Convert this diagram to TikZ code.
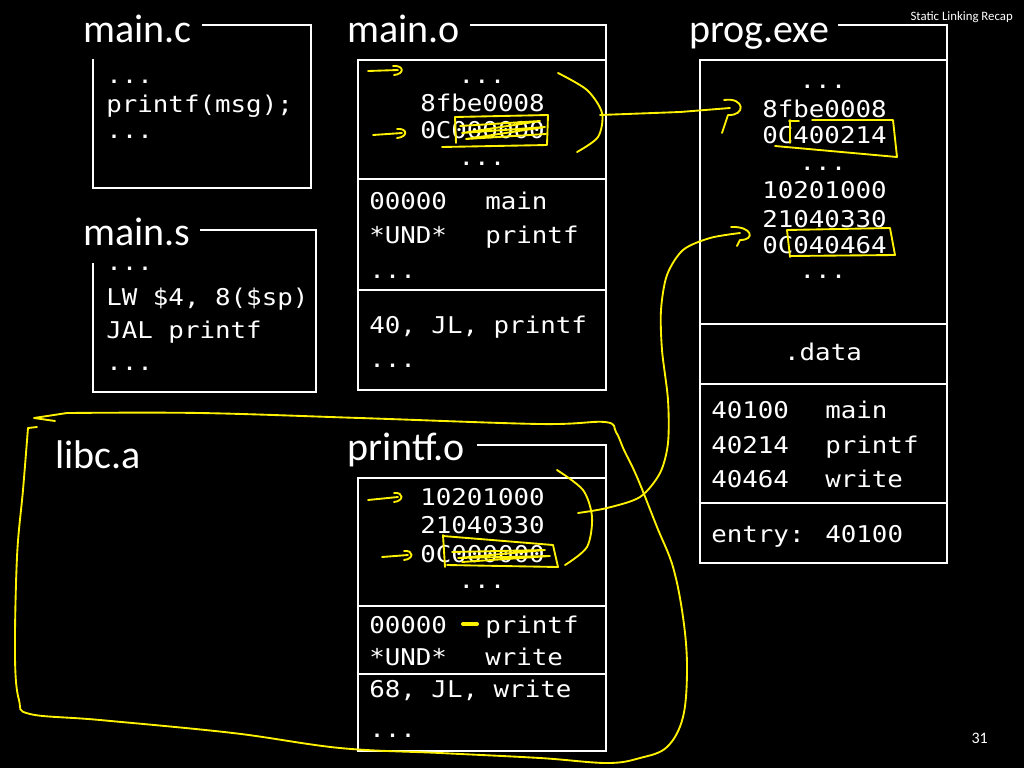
\documentclass[tikz,border=0pt]{standalone}
\usepackage{fontspec}
\setmainfont{Carlito}
\newfontfamily\monofam[FakeStretch=1.12]{DejaVu Sans Mono}
\newcommand\mycode{\monofam\fontsize{17.3}{20}\selectfont}
\newcommand\mytitle{\fontsize{30}{36}\selectfont}
\usetikzlibrary{arrows.meta}
\begin{document}
\begin{tikzpicture}[x=0.75pt,y=-0.75pt,
  box/.style={draw=white,line width=2pt},
  code/.style={anchor=base west,inner sep=0pt,font=\mycode,text=white},
  codec/.style={anchor=base,inner sep=0pt,font=\mycode,text=white},
  title/.style={anchor=base west,inner sep=0pt,font=\mytitle,text=white},
  ann/.style={draw=yellow,line width=1.4pt,line cap=round,line join=round},
  annthick/.style={draw=yellow,line width=3pt,line cap=round}]
\fill[black] (0,0) rectangle (1024,768);
\useasboundingbox (0,0) rectangle (1024,768);

% ---------- boxes ----------
\draw[box] (202,25) -- (311,25) -- (311,188) -- (93,188) -- (93,59);
\draw[box] (200,230) -- (316,230) -- (316,392) -- (93,392) -- (93,263);
\draw[box] (470,25) -- (606,25) -- (606,390) -- (358,390) -- (358,60) -- (606,60);
\draw[box] (358,179) -- (606,179);
\draw[box] (358,290) -- (606,290);
\draw[box] (477,445) -- (606,445) -- (606,751) -- (358,751) -- (358,478) -- (606,478);
\draw[box] (358,606) -- (606,606);
\draw[box] (358,674) -- (606,674);
\draw[box] (838,25) -- (947,25) -- (947,563) -- (700,563) -- (700,60) -- (947,60);
\draw[box] (700,324) -- (947,324);
\draw[box] (700,384) -- (947,384);
\draw[box] (700,503) -- (947,503);

% ---------- titles ----------
\node[title] (tmc) at (83,42) {main.c};
\node[title,text depth=0pt] (tms) at (83,245) {main.s};
\node[title] (tmo) at (347,42) {main.o};
\node[title] (tpe) at (689,42) {prog.exe};
\node[title] (tpo) at (347,460) {printf.o};
\node[title] (tlib) at (55,468) {libc.a};
\node[anchor=base east,inner sep=0pt,font=\fontsize{9.6}{11}\selectfont,text=white] (hdr) at (1013,20) {Static Linking Recap};
\node[anchor=base east,inner sep=0pt,font=\fontsize{12}{14}\selectfont,text=white] (pg) at (988,743) {31};

% ---------- main.c ----------
\node[code] (c1) at (106,83) {...};
\node[code] (c2) at (106,112) {printf(msg);};
\node[code] (c3) at (106,138) {...};
% ---------- main.s ----------
\node[code,text height=3pt] (s1) at (106,270) {...};
\node[code] (s2) at (106,305) {LW \$4, 8(\$sp)};
\node[code] (s3) at (106,338) {JAL printf};
\node[code] (s4) at (106,370) {...};
% ---------- main.o ----------
\node[codec] (o1) at (482,83) {...};
\node[code] (o2) at (420,111) {8fbe0008};
\node[code] (o3) at (420,138) {0C000000};
\node[codec] (o4) at (482,165) {...};
\node[code] (o5) at (369,209) {00000};
\node[code] (o6) at (485,209) {main};
\node[code] (o7) at (369,243) {*UND*};
\node[code] (o8) at (485,243) {printf};
\node[code] (o9) at (369,278) {...};
\node[code] (o10) at (369,333) {40, JL, printf};
\node[code] (o11) at (369,367) {...};
% ---------- printf.o ----------
\node[code] (p1) at (420,505) {10201000};
\node[code] (p2) at (420,533) {21040330};
\node[code] (p3) at (420,562) {0C000000};
\node[codec] (p4) at (482,588) {...};
\node[code] (p5) at (369,633) {00000};
\node[code] (p6) at (485,633) {printf};
\node[code] (p7) at (369,665) {*UND*};
\node[code] (p8) at (485,665) {write};
\node[code] (p9) at (369,697) {68, JL, write};
\node[code] (p10) at (369,737) {...};
% ---------- prog.exe ----------
\node[codec] (e1) at (823,88) {...};
\node[code] (e2) at (762,117) {8fbe0008};
\node[code] (e3) at (762,143) {0C400214};
\node[codec] (e4) at (823,170) {...};
\node[code] (e5) at (762,198) {10201000};
\node[code] (e6) at (762,227) {21040330};
\node[code] (e7) at (762,253) {0C040464};
\node[codec] (e8) at (823,278) {...};
\node[codec] (e9) at (823,360) {.data};
\node[code] (e10) at (711,418) {40100};
\node[code] (e11) at (825,418) {main};
\node[code] (e12) at (711,453) {40214};
\node[code] (e13) at (825,453) {printf};
\node[code] (e14) at (711,487) {40464};
\node[code] (e15) at (825,487) {write};
\node[code] (e16) at (711,542) {entry: 40100};

% ---------- yellow annotations ----------
% libc.a loop
\draw[ann] (55,421) -- (34,418) -- (67,413);
\draw[ann] (37,427) -- (28,428);
\draw[ann] plot[smooth,tension=0.6] coordinates {(67,413) (200,413) (360,418) (540,424) (605,422) (616,432) (624,450) (637,477) (657,527) (673,567) (683,617) (687,667) (683,717) (667,747) (640,758) (607,763) (540,758) (440,753) (340,748) (233,733) (100,720) (30,714) (19,700) (15,657) (17,557) (23,490) (28,428)};

% main.o marks
\draw[ann] (368,71) -- (398,70);
\draw[ann] (393,66) .. controls (404,65) and (405,74) .. (394,75);
\draw[ann] (373,135) -- (402,133);
\draw[ann] (397,129) .. controls (408,128) and (408,137) .. (397,138);
\draw[ann] (455,117) -- (548,115) -- (547,145) -- (442,147);
\draw[ann] (455,117) -- (456,143);
\draw[ann] (460,126) -- (540,121) -- (462,133) -- (545,127) -- (466,139) -- (546,134);
\draw[ann] plot[smooth] coordinates {(558,73) (587,90) (602,113) (598,137) (577,152)};
\coordinate (mo) at (600,115);
\coordinate (pe1) at (730,108);
\draw[ann] (mo) -- (680,112) -- (pe1);
\draw[ann] (724,100) .. controls (745,97) and (746,116) .. (728,115) -- (722,133);

% prog.exe boxes
\draw[ann] (790,120) -- (790,143);
\draw[ann] (789,121) -- (799,121);
\draw[ann] (812,120) -- (893,120) -- (897,157) -- (775,146);
\draw[ann] (787,230) -- (790,257);
\draw[ann] (787,230) -- (890,228) -- (895,255) -- (790,256);

% printf.o marks
\draw[ann] (368,500) -- (398,497);
\draw[ann] (394,493) .. controls (404,492) and (404,501) .. (394,502);
\draw[ann] (382,557) -- (408,555);
\draw[ann] (404,551) .. controls (414,550) and (414,559) .. (404,560);
\draw[ann] (443,535) -- (445,567);
\draw[ann] (443,536) -- (553,545) -- (558,567) -- (447,565);
\draw[ann] (452,552) -- (545,550) -- (458,558) -- (550,556) -- (462,562);
\draw[ann] plot[smooth] coordinates {(557,470) (583,490) (592,517) (587,547) (565,565)};
\draw[annthick] (463,624) -- (477,624);
\coordinate (po) at (578,513);
\coordinate (pe2) at (740,233);
\draw[ann] plot[smooth] coordinates {(po) (607,508) (640,497) (660,473) (668,443) (668,400) (662,350) (661,310) (667,275) (683,250) (710,238) (pe2)};
\draw[ann] (731,227) .. controls (752,226) and (756,240) .. (740,240) -- (737,246);
\end{tikzpicture}
\end{document}
